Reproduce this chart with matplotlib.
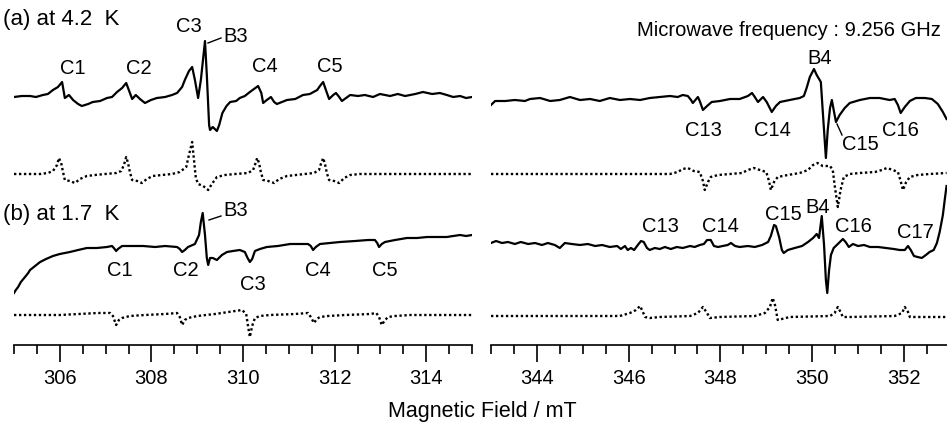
import matplotlib
matplotlib.use("Agg")
import matplotlib.pyplot as plt
from matplotlib.ticker import MultipleLocator

plt.rcParams['font.family'] = ['Liberation Sans', 'DejaVu Sans']

# ---------------- data (field in mT, signal in arbitrary units) ----------------
# (a) 4.2 K experimental, low-field region
a_exp_L_B = [305.00,305.17,305.35,305.48,305.63,305.74,305.85,305.96,306.05,306.11,306.20,306.29,306.40,306.48,306.62,306.72,306.88,307.03,307.14,307.25,307.36,307.45,307.58,307.66,307.75,307.86,307.99,308.12,308.30,308.45,308.56,308.67,308.73,308.82,308.89,308.95,309.02,309.08,309.17,309.21,309.26,309.28,309.34,309.43,309.48,309.55,309.64,309.72,309.85,309.93,310.04,310.15,310.24,310.33,310.40,310.44,310.52,310.61,310.68,310.74,310.85,310.96,311.14,311.31,311.46,311.62,311.68,311.75,311.81,311.88,311.97,312.03,312.10,312.16,312.25,312.34,312.51,312.66,312.84,312.99,313.21,313.38,313.54,313.76,313.93,314.13,314.30,314.45,314.59,314.74,314.87,315.00]
a_exp_L_I = [0,1,1,0,2,3,7,10,15,-1,2,-3,-7,-9,-7,-5,-4,-1,0,5,9,14,-2,2,-2,-6,-3,-1,0,2,4,10,17,26,30,17,-1,17,56,22,-28,-33,-30,-34,-28,-16,-9,-5,-4,-1,1,5,8,11,4,-6,-3,0,-5,-7,-5,-3,-2,2,3,7,11,15,7,-2,2,4,0,-4,-1,2,1,2,0,3,1,3,1,3,5,3,4,2,0,1,-1,0]

# (a) 4.2 K simulated, low-field region
a_sim_L_B = [305.00,305.57,305.74,305.85,305.94,305.98,306.03,306.07,306.11,306.22,306.33,306.44,306.59,306.77,306.99,307.23,307.34,307.40,307.45,307.49,307.53,307.58,307.69,307.79,307.90,308.03,308.23,308.45,308.62,308.76,308.82,308.89,308.93,308.97,309.02,309.13,309.24,309.32,309.43,309.61,309.83,310.11,310.22,310.26,310.31,310.35,310.39,310.44,310.55,310.68,310.79,310.96,311.16,311.35,311.55,311.66,311.70,311.75,311.79,311.83,311.88,311.99,312.10,312.21,312.34,312.55,315.00]
a_sim_L_I = [0,0,1,3,9,16,11,2,-6,-7,-9,-5,-2,-1,0,1,3,9,17,11,2,-6,-7,-9,-5,-2,-1,0,2,7,19,32,14,-4,-10,-12,-16,-10,-3,-1,0,1,4,9,16,11,2,-6,-7,-9,-5,-2,-1,0,1,4,10,16,10,1,-6,-7,-9,-4,-1,0,0]

# (b) 1.7 K experimental, low-field region
b_exp_L_B = [305.00,305.04,305.09,305.15,305.24,305.31,305.35,305.46,305.57,305.70,305.85,306.00,306.22,306.40,306.59,306.81,307.03,307.14,307.18,307.23,307.27,307.36,307.53,307.82,308.08,308.30,308.56,308.62,308.67,308.73,308.80,308.95,309.04,309.08,309.12,309.17,309.21,309.24,309.28,309.34,309.43,309.54,309.65,309.78,309.93,310.04,310.10,310.15,310.20,310.26,310.37,310.52,310.76,311.03,311.24,311.42,311.48,311.53,311.59,311.68,311.90,312.12,312.45,312.73,312.88,312.93,312.97,313.03,313.10,313.32,313.58,313.80,314.02,314.24,314.45,314.59,314.74,314.87,315.00]
b_exp_L_I = [-46,-43,-40,-35,-30,-26,-23,-19,-15,-12,-9,-7,-5,-3,-1,-1,0,1,-1,-4,-2,1,1,1,0,1,0,-2,-5,-3,0,3,12,25,34,12,-11,-18,-11,-11,-13,-8,-5,-4,-3,-5,-11,-15,-12,-4,-2,0,1,3,3,3,1,-3,0,3,4,5,6,7,7,4,0,3,5,7,9,9,10,10,10,11,12,11,12]

# (b) 1.7 K simulated, low-field region
b_sim_L_B = [305.00,306.00,306.83,307.10,307.16,307.23,307.29,307.36,307.53,307.86,308.30,308.56,308.62,308.67,308.73,308.80,309.00,309.39,309.83,309.98,310.07,310.11,310.15,310.20,310.26,310.37,310.59,311.14,311.42,311.48,311.55,311.61,311.68,311.86,312.23,312.78,312.91,312.97,313.03,313.10,313.17,313.32,313.65,315.00]
b_sim_L_I = [0,0,2,2,-1,-10,-5,-3,-1,0,1,2,-2,-10,-5,-3,-1,1,4,5,1,-11,-22,-11,-3,-1,0,1,2,-2,-8,-4,-2,-1,0,1,2,-2,-10,-5,-2,-1,0,0]

# (a) 4.2 K experimental, high-field region
a_exp_R_B = [343.00,343.09,343.31,343.52,343.74,343.85,344.07,344.29,344.50,344.72,344.94,345.16,345.37,345.59,345.81,346.03,346.25,346.46,346.68,346.90,347.07,347.18,347.29,347.36,347.40,347.51,347.55,347.62,347.71,347.81,347.99,348.21,348.42,348.60,348.69,348.75,348.82,348.93,349.01,349.12,349.21,349.30,349.51,349.73,349.82,349.88,349.95,350.04,350.10,350.19,350.23,350.30,350.34,350.39,350.43,350.47,350.52,350.60,350.71,350.82,351.04,351.26,351.47,351.69,351.80,351.87,351.93,352.02,352.13,352.26,352.46,352.61,352.74,352.85,352.93]
a_exp_R_I = [-8,-4,-4,-3,-4,-2,-1,-4,-3,0,-3,-2,-4,-1,-3,-2,-3,-1,0,1,0,2,1,-3,-6,0,-4,-13,-9,-5,-4,-2,-2,1,4,0,-5,0,-5,-15,-9,-5,-3,-1,1,9,20,28,22,15,-13,-61,-33,-11,-3,-13,-25,-18,-11,-6,-3,-1,-1,-3,-2,-8,-16,-10,-4,-1,-1,-2,-7,-15,-22]

# (a) 4.2 K simulated, high-field region
a_sim_R_B = [343.00,346.90,347.07,347.18,347.29,347.42,347.55,347.62,347.66,347.73,347.79,347.95,348.21,348.47,348.60,348.73,348.86,349.00,349.06,349.10,349.17,349.25,349.47,349.73,349.91,350.02,350.12,350.23,350.39,350.45,350.49,350.56,350.62,350.69,350.82,351.04,351.37,351.52,351.63,351.76,351.87,351.93,351.98,352.05,352.13,352.30,352.56,352.93]
a_sim_R_I = [0,0,2,5,6,3,2,-7,-16,-8,-3,-1,0,1,4,6,4,2,-7,-16,-8,-3,-1,1,4,9,11,8,8,4,-11,-33,-16,-3,0,1,2,4,6,4,2,-7,-16,-8,-3,-1,0,1]

# (b) 1.7 K experimental, high-field region
b_exp_R_B = [343.00,343.11,343.24,343.37,343.52,343.65,343.81,343.96,344.11,344.24,344.39,344.50,344.61,344.76,344.94,345.11,345.27,345.42,345.59,345.75,345.83,345.92,345.98,346.05,346.12,346.20,346.27,346.33,346.40,346.46,346.57,346.68,346.79,346.92,347.05,347.18,347.34,347.44,347.55,347.64,347.71,347.79,347.86,347.95,348.05,348.16,348.23,348.32,348.42,348.60,348.75,348.91,349.04,349.10,349.17,349.21,349.28,349.34,349.38,349.47,349.62,349.78,349.91,350.02,350.10,350.15,350.21,350.26,350.30,350.33,350.37,350.41,350.47,350.56,350.67,350.73,350.80,350.89,351.00,351.13,351.26,351.44,351.61,351.78,351.91,352.02,352.09,352.15,352.22,352.30,352.39,352.48,352.56,352.65,352.72,352.78,352.85,352.89,352.93]
b_exp_R_I = [4,6,4,5,3,5,3,4,2,4,2,-1,4,3,2,3,1,2,0,1,-2,1,-3,-1,-3,2,6,5,-1,-3,-1,-2,0,-2,0,-1,1,0,2,3,7,7,1,0,1,2,4,1,0,1,0,2,5,11,22,21,10,-3,-6,-3,-1,1,5,9,13,9,31,2,-33,-46,-23,-8,-1,3,8,5,0,3,1,2,0,0,-1,-2,-3,-3,1,-3,-9,-10,-11,-8,-5,-3,4,15,32,47,61]

# (b) 1.7 K simulated, high-field region
b_sim_R_B = [343.00,345.81,346.03,346.16,346.25,346.31,346.36,346.46,346.68,347.34,347.51,347.62,347.71,347.77,347.99,348.75,348.97,349.08,349.14,349.19,349.25,349.34,349.51,350.39,350.49,350.56,350.62,350.67,350.82,351.80,351.96,352.02,352.09,352.13,352.35,352.93]
b_sim_R_I = [-1,-1,2,5,9,3,-2,-3,-2,-1,2,8,2,-3,-2,-1,2,8,17,10,-5,-4,-2,-1,2,8,3,-2,-2,-1,2,8,3,-2,-2,-2]

left_ticks = [306, 308, 310, 312, 314]
right_ticks = [344, 346, 348, 350, 352]

# ---------------- layout ----------------
W, H = 947, 426
fig = plt.figure(figsize=(W / 100, H / 100), dpi=100)

AXIS_Y = 345          # pixel row of the field axis
off_a_exp, off_a_sim = 248, 171
off_b_exp, off_b_sim = 98, 30

axL = fig.add_axes([14 / W, (H - AXIS_Y) / H, 458 / W, AXIS_Y / H])
axR = fig.add_axes([491 / W, (H - AXIS_Y) / H, 456 / W, AXIS_Y / H])
axL.set_xlim(305, 315)
axR.set_xlim(343, 352.94)

FS = 14.5
FS_HEAD = 16
lw = 1.6
dot = dict(color='black', lw=1.7, linestyle=(0, (1, 1.1)), dash_capstyle='butt')

def plot_set(ax, eaB, eaI, saB, saI, ebB, ebI, sbB, sbI):
    ax.plot(eaB, [off_a_exp + v for v in eaI], color='black', lw=lw)
    ax.plot(saB, [off_a_sim + v for v in saI], **dot)
    ax.plot(ebB, [off_b_exp + v for v in ebI], color='black', lw=lw)
    ax.plot(sbB, [off_b_sim + v for v in sbI], **dot)

plot_set(axL, a_exp_L_B, a_exp_L_I, a_sim_L_B, a_sim_L_I,
         b_exp_L_B, b_exp_L_I, b_sim_L_B, b_sim_L_I)
plot_set(axR, a_exp_R_B, a_exp_R_I, a_sim_R_B, a_sim_R_I,
         b_exp_R_B, b_exp_R_I, b_sim_R_B, b_sim_R_I)

for ax, ticks in ((axL, left_ticks), (axR, right_ticks)):
    ax.set_ylim(0, AXIS_Y)
    for s in ('top', 'left', 'right'):
        ax.spines[s].set_visible(False)
    ax.spines['bottom'].set_linewidth(1.2)
    ax.set_yticks([])
    ax.set_xticks(ticks)
    ax.xaxis.set_minor_locator(MultipleLocator(0.5))
    ax.tick_params(axis='x', which='major', length=12.5, width=1.2, direction='out',
                   labelsize=FS, pad=5)
    ax.tick_params(axis='x', which='minor', length=6.5, width=1.2, direction='out')
    ax.patch.set_alpha(0)

def ftext(x, y, s, ha='center', va='center', fs=FS):
    fig.text(x / W, 1 - y / H, s, ha=ha, va=va, fontsize=fs)

def fline(x0, y0, x1, y1):
    fig.add_artist(plt.Line2D([x0 / W, x1 / W], [1 - y0 / H, 1 - y1 / H],
                              color='black', lw=1.0))

# headers
ftext(3, 19, '(a) at 4.2  K', ha='left', fs=FS_HEAD)
ftext(3, 215, '(b) at 1.7  K', ha='left', fs=FS_HEAD)
ftext(941, 31, 'Microwave frequency : 9.256 GHz', ha='right')

# (a) labels
for x, y, s in [(73, 68, 'C1'), (139, 68, 'C2'), (189, 26, 'C3'), (236, 36, 'B3'),
                (265, 67, 'C4'), (330, 67, 'C5'),
                (820, 58, 'B4'), (703, 130, 'C13'), (772, 130, 'C14'),
                (860, 145, 'C15'), (900, 130, 'C16'), (818, 208, 'B4')]:
    ftext(x, y, s)
fline(208, 43, 221, 38)
fline(837, 124, 842, 135)

# (b) labels
for x, y, s in [(236, 210, 'B3'), (120, 271, 'C1'), (186, 271, 'C2'), (253, 284, 'C3'),
                (318, 271, 'C4'), (385, 271, 'C5'),
                (660, 226, 'C13'), (720, 226, 'C14'), (783, 215, 'C15'),
                (853, 226, 'C16'), (915, 232, 'C17')]:
    ftext(x, y, s)
fline(209, 220, 221, 216)

ftext(482, 412, 'Magnetic Field / mT', fs=15.5)

fig.savefig('out.png', dpi=100)
